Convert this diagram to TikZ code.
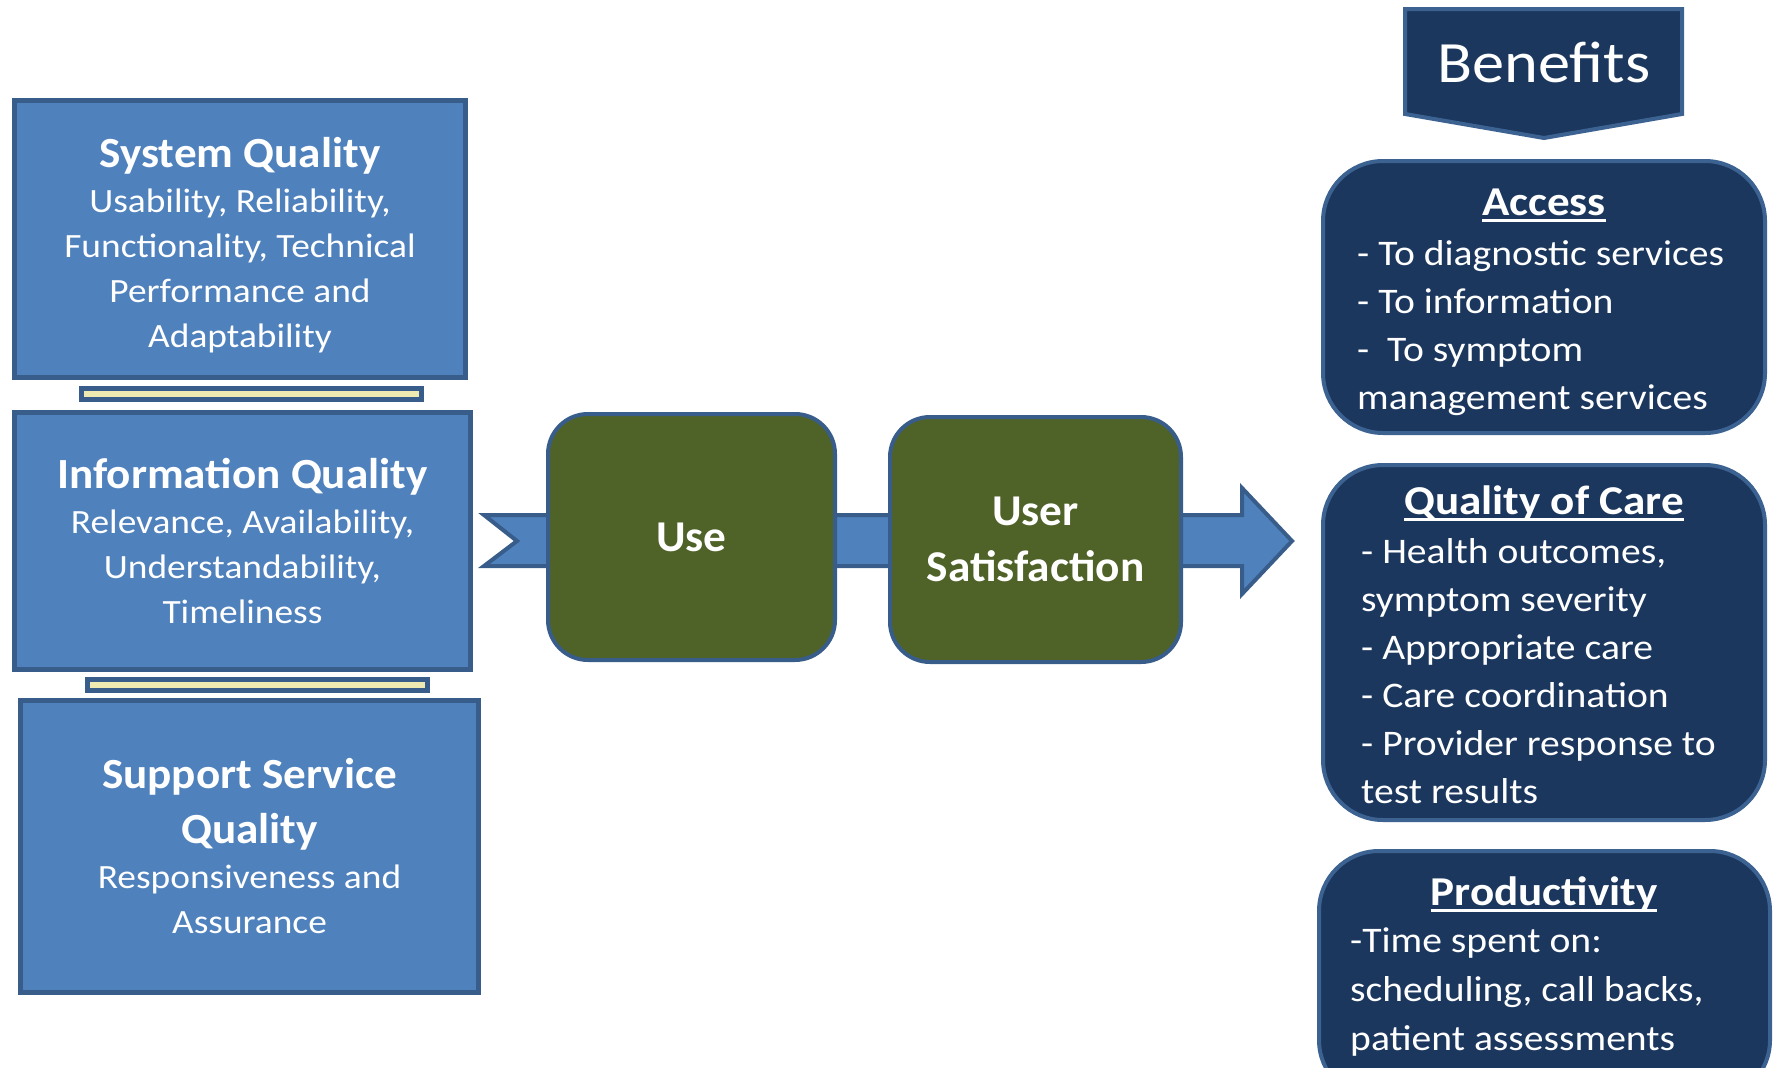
\documentclass[tikz,border=0pt]{standalone}
\usepackage{fontspec}
\setmainfont{Carlito}[FakeStretch=1.1]
\newfontfamily\titlefam{Carlito}[FakeStretch=1.05]
\newfontfamily\boxfam{Carlito}[FakeStretch=1.03]
\usetikzlibrary{positioning}

\definecolor{boxblue}{HTML}{4F81BD}
\definecolor{boxedge}{HTML}{385D8A}
\definecolor{leafgreen}{HTML}{4F6228}
\definecolor{navy}{HTML}{1B375E}
\definecolor{navyedge}{HTML}{3C6291}
\definecolor{cream}{HTML}{EEEAB2}

\newcommand{\qtitle}[1]{{\titlefam\fontsize{43}{45}\selectfont\bfseries #1}}
\newcommand{\ultitle}[1]{\setbox0\hbox{#1}\rlap{\rule[-7pt]{\wd0}{3.5pt}}\box0}

\begin{document}
\begin{tikzpicture}[x=1pt, y=-1pt,
    qualbox/.style={draw=boxedge, fill=boxblue, line width=5pt, text=white, align=center, inner sep=0pt, font=\fontsize{34}{45}\selectfont},
    linkbar/.style={draw=boxedge, fill=cream, line width=5pt, inner sep=0pt, minimum width=340, minimum height=11},
    greenbox/.style={draw=boxedge, fill=leafgreen, line width=4pt, rounded corners=40pt, text=white, align=center, inner sep=0pt, font=\boxfam\fontsize{44}{56}\selectfont\bfseries},
    benbox/.style={draw=navyedge, fill=navy, line width=4pt, rounded corners=60pt, minimum width=442},
    bentitle/.style={text=white, font=\fontsize{41}{48}\selectfont\bfseries, anchor=base, inner sep=0pt},
    benlist/.style={text=white, font=\fontsize{36}{48}\selectfont, align=left, anchor=north west, inner sep=0pt}]
    \useasboundingbox (0,0) rectangle (1775,1068);
    \clip (0,0) rectangle (1775,1068);

    % quality boxes on the left
    \node[qualbox, minimum width=451, minimum height=277] (sysq) at (240,239) {\rule{0pt}{42pt}\qtitle{System Quality}\\Usability, Reliability,\\Functionality, Technical\\Performance and\\Adaptability};
    \node[linkbar] (barA) at (251.5,394) {};
    \node[qualbox, minimum width=456, minimum height=257] (infoq) at (242.5,541) {\qtitle{Information Quality}\\Relevance, Availability,\\Understandability,\\Timeliness};
    \node[linkbar] (barB) at (257.5,685) {};
    \node[qualbox, minimum width=458, minimum height=292] (suppq) at (249.5,846.5) {\qtitle{Support Service}\\[10pt]\qtitle{Quality}\\Responsiveness and\\Assurance};

    % the wide arrow behind use and satisfaction
    \filldraw[draw=boxedge, fill=boxblue, line width=4pt] (484,515) -- (517,541) -- (484,566) -- (1242,566) -- (1242,594) -- (1292,541) -- (1242,488) -- (1242,515) -- cycle;
    \node[greenbox, minimum width=287, minimum height=246] (use) at (691.5,537) {Use};
    \node[greenbox, minimum width=291, minimum height=245] (usat) at (1035.5,539.5) {User\\Satisfaction};

    % benefits
    \filldraw[draw=navyedge, fill=navy, line width=4pt] (1405,9) -- (1682,9) -- (1682,114) -- (1544,138) -- (1405,114) -- cycle;
    \node[text=white, font=\fontsize{58.5}{60}\selectfont, anchor=base] (bentxt) at (1544,82) {Benefits};

    \node[benbox, minimum height=272] (access) at (1544,297) {};
    \node[bentitle] (accT) at (1544,215) {\ultitle{Access}};
    \node[benlist] (accL) at (1357,240) {- To diagnostic services\\- To information\\- \ To symptom\\management services};

    \node[benbox, minimum height=355] (care) at (1544,642.5) {};
    \node[bentitle] (careT) at (1544,514) {\ultitle{Quality of Care}};
    \node[benlist] (careL) at (1361,538) {- Health outcomes,\\symptom severity\\- Appropriate care\\- Care coordination\\- Provider response to\\test results};

    \node[benbox, minimum width=451, minimum height=249] (prod) at (1544.5,975.5) {};
    \node[bentitle] (prodT) at (1544,905) {\ultitle{Productivity}};
    \node[benlist, font=\fontsize{36}{49}\selectfont] (prodL) at (1350,928) {-Time spent on:\\scheduling, call backs,\\patient assessments};
\end{tikzpicture}
\end{document}
